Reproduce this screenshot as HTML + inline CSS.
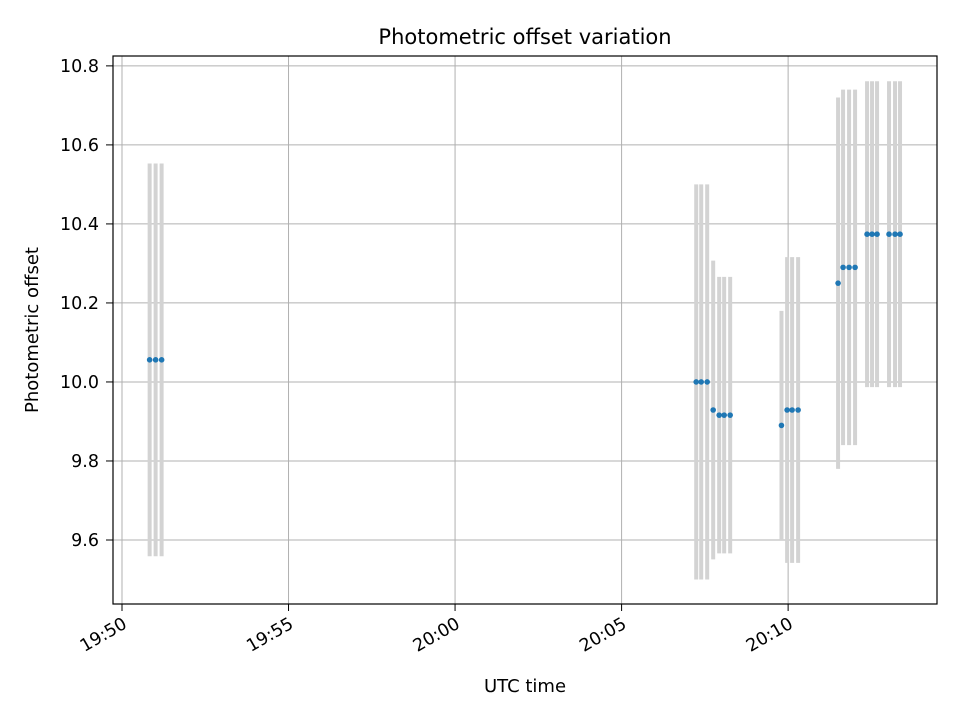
<!DOCTYPE html>
<html><head><meta charset="utf-8"><style>
body{margin:0;background:#fff;font-family:"Liberation Sans","DejaVu Sans",sans-serif}
svg text{font-family:"DejaVu Sans","Liberation Sans",sans-serif}
</style></head><body>
<svg id="chart" width="960" height="720" xmlns="http://www.w3.org/2000/svg">
<rect width="960" height="720" fill="#fff"/>
<g id="grid"></g><g id="bars"></g><g id="dots"></g><g id="axes"></g>
<text x="525" y="44" text-anchor="middle" font-size="21">Photometric offset variation</text>
<text x="525" y="692" text-anchor="middle" font-size="18">UTC time</text>
<text transform="translate(38,330) rotate(-90)" text-anchor="middle" font-size="18">Photometric offset</text>
</svg>
<script>
// minutes after 19:50 UTC
const times=[0.83,1.01,1.19,17.24,17.39,17.57,17.75,17.93,18.08,18.26,19.80,19.97,20.12,20.30,21.50,21.65,21.83,22.01,22.37,22.52,22.67,23.03,23.21,23.36];
const offsets=[10.056,10.056,10.056,10.0,10.0,10.0,9.929,9.916,9.916,9.916,9.890,9.929,9.929,9.929,10.25,10.29,10.29,10.29,10.374,10.374,10.374,10.374,10.374,10.374];
const errors=[0.497,0.497,0.497,0.5,0.5,0.5,0.378,0.35,0.35,0.35,0.29,0.387,0.387,0.387,0.47,0.45,0.45,0.45,0.387,0.387,0.387,0.387,0.387,0.387];
const xTickVals=[0,5,10,15,20];
const xTickLabels=["19:50","19:55","20:00","20:05","20:10"];
const yTickVals=[9.6,9.8,10.0,10.2,10.4,10.6,10.8];
const yTickLabels=["9.6","9.8","10.0","10.2","10.4","10.6","10.8"];
const L=113,R=937,T=56,B=604,xmin=-0.27,xmax=24.47,ymin=9.438,ymax=10.825;
const xs=v=>L+(v-xmin)/(xmax-xmin)*(R-L);
const ys=v=>B-(v-ymin)/(ymax-ymin)*(B-T);
const NS="http://www.w3.org/2000/svg";
function mk(p,tag,a){const e=document.createElementNS(NS,tag);for(const k in a)e.setAttribute(k,a[k]);p.appendChild(e);return e;}
const grid=document.getElementById('grid'),bars=document.getElementById('bars'),dots=document.getElementById('dots'),axes=document.getElementById('axes');
xTickVals.forEach((v,i)=>{const x=xs(v);
 const g=mk(grid,'line',{x1:x,x2:x,y1:T,y2:B,stroke:'#b0b0b0','stroke-width':1});
 
 mk(axes,'line',{x1:x,x2:x,y1:B,y2:B+7,stroke:'#000'});
 const t=mk(axes,'text',{transform:`translate(${x+6},${B+23}) rotate(-30)`,'text-anchor':'end','font-size':17.5});
 t.textContent=xTickLabels[i];
 });
yTickVals.forEach((v,i)=>{const y=ys(v);
 const g=mk(grid,'line',{x1:L,x2:R,y1:y,y2:y,stroke:'#b0b0b0','stroke-width':1});
 
 mk(axes,'line',{x1:L-7,x2:L,y1:y,y2:y,stroke:'#000'});
 const t=mk(axes,'text',{x:L-14,y:y+6,'text-anchor':'end','font-size':17.5});
 t.textContent=yTickLabels[i];
 });
times.forEach((tm,i)=>{const x=xs(tm);
 const b=mk(bars,'line',{x1:x,x2:x,y1:ys(offsets[i]+errors[i]),y2:ys(offsets[i]-errors[i]),stroke:'#d3d3d3','stroke-width':4});
 
 const c=mk(dots,'circle',{cx:x,cy:ys(offsets[i]),r:2.8,fill:'#1f77b4'});
 });
const f=mk(axes,'rect',{x:L,y:T,width:R-L,height:B-T,fill:'none',stroke:'#000','stroke-width':1.2});

</script>
</body></html>
